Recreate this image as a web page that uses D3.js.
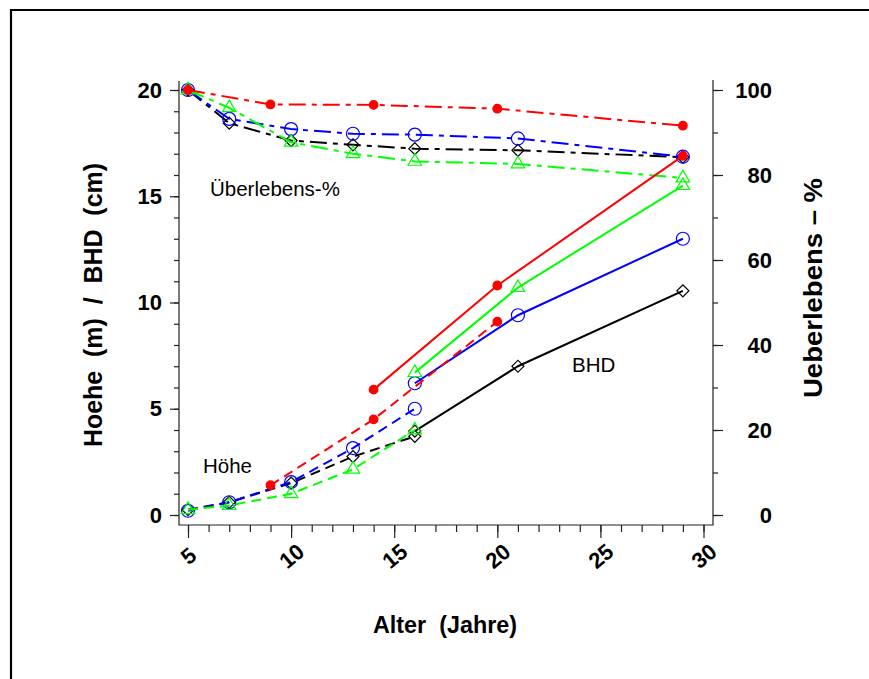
<!DOCTYPE html>
<html>
<head>
<meta charset="utf-8">
<script src="https://cdn.jsdelivr.net/npm/d3@7"></script>
<style>
  body { margin: 0; background: #fff; }
  svg { display: block; font-family: "Liberation Sans", Arial, Helvetica, sans-serif; }
  text { white-space: pre; }
</style>
</head>
<body>
<div id="chart"></div>
<script>
////////////////////////////////////////////////////////////////////////
// Data: age (Jahre), survival (%), height (m), BHD (cm)

// red, filled dots
let redSurvAge = [5, 9, 14, 20, 29];
let redSurv = [100, 96.6, 96.5, 95.6, 91.6];
let redHoeheAge = [9, 14, 20];
let redHoehe = [1.4, 4.5, 9.1];
let redBhdAge = [14, 20, 29];
let redBhd = [5.9, 10.8, 16.9];

// green, triangles
let greenSurvAge = [5, 7, 10, 13, 16, 21, 29];
let greenSurv = [100, 95.8, 87.7, 85.0, 83.2, 82.6, 79.3];
let greenHoeheAge = [5, 7, 10, 13, 16];
let greenHoehe = [0.25, 0.45, 1.0, 2.15, 4.0];
let greenBhdAge = [16, 21, 29];
let greenBhd = [6.7, 10.7, 15.5];

// blue, open circles
let blueSurvAge = [5, 7, 10, 13, 16, 21, 29];
let blueSurv = [100, 93.2, 90.8, 89.7, 89.5, 88.6, 84.3];
let blueHoeheAge = [5, 7, 10, 13, 16];
let blueHoehe = [0.2, 0.6, 1.55, 3.15, 5.0];
let blueBhdAge = [16, 21, 29];
let blueBhd = [6.2, 9.4, 13.0];

// black, diamonds
let blackSurvAge = [5, 7, 10, 13, 16, 21, 29];
let blackSurv = [100, 92.2, 88.1, 87.1, 86.2, 85.8, 84.2];
let blackHoeheAge = [5, 7, 10, 13, 16];
let blackHoehe = [0.25, 0.6, 1.5, 2.75, 3.7];
let blackBhdAge = [16, 21, 29];
let blackBhd = [3.95, 7.0, 10.55];

let xTicks = [5, 10, 15, 20, 25, 30];
let yLeftTicks = [0, 5, 10, 15, 20];
let yRightTicks = [0, 20, 40, 60, 80, 100];

////////////////////////////////////////////////////////////////////////
// Setup

let width = 869;
let height = 679;

let svg = d3.select("#chart")
  .append("svg")
  .attr("width", width).attr("height", height);

// outer frame (only top and left edges are visible in the picture)
svg.append("path")
  .attr("d", "M 11 679 L 11 10 L 869 10")
  .attr("fill", "none")
  .attr("stroke", "black")
  .attr("stroke-width", 2.2);

// plot box
let boxL = 179, boxR = 713, boxT = 81, boxB = 525;

let xScale = d3.scaleLinear().domain([5, 30]).range([188, 703.5]);
let yLeft = d3.scaleLinear().domain([0, 20]).range([515, 90]);
let yRight = d3.scaleLinear().domain([0, 100]).range([515, 90]);

// axis lines
svg.append("path")
  .attr("d", `M ${boxL} ${boxT} L ${boxL} ${boxB} L ${boxR} ${boxB} L ${boxR} ${boxT - 1}`)
  .attr("fill", "none")
  .attr("stroke", "#222")
  .attr("stroke-width", 1.2);

function styleAxis(g) {
  g.select(".domain").remove();
  g.selectAll("line").attr("stroke", "#222").attr("stroke-width", 1.2);
  g.selectAll("text")
    .attr("fill", "black")
    .attr("font-weight", "bold")
    .attr("font-size", 22)
    .attr("font-family", "Liberation Sans, Arial, sans-serif");
}

// x axis: minor then major
svg.append("g")
  .attr("transform", `translate(0, ${boxB})`)
  .call(d3.axisBottom(xScale).tickValues(d3.range(5, 31, 1)).tickSize(7).tickFormat(""))
  .call(styleAxis);
let xAxis = svg.append("g")
  .attr("transform", `translate(0, ${boxB})`)
  .call(d3.axisBottom(xScale).tickValues(xTicks).tickSize(13))
  .call(styleAxis);
xAxis.selectAll("text")
  .attr("y", 0).attr("dy", "0.35em")
  .attr("text-anchor", "middle")
  .attr("transform", "translate(0, 31) rotate(-40)");

// left axis
svg.append("g")
  .attr("transform", `translate(${boxL}, 0)`)
  .call(d3.axisLeft(yLeft).tickValues(d3.range(0, 21, 1)).tickSize(5).tickFormat(""))
  .call(styleAxis);
svg.append("g")
  .attr("transform", `translate(${boxL}, 0)`)
  .call(d3.axisLeft(yLeft).tickValues(yLeftTicks).tickSize(9).tickPadding(8))
  .call(styleAxis);

// right axis
svg.append("g")
  .attr("transform", `translate(${boxR}, 0)`)
  .call(d3.axisRight(yRight).tickValues(d3.range(0, 101, 10)).tickSize(5).tickFormat(""))
  .call(styleAxis);
let rAxis = svg.append("g")
  .attr("transform", `translate(${boxR}, 0)`)
  .call(d3.axisRight(yRight).tickValues(yRightTicks).tickSize(10))
  .call(styleAxis);
rAxis.selectAll("text").attr("text-anchor", "end").attr("x", 59);

// axis titles
svg.append("text")
  .attr("x", 445).attr("y", 633)
  .attr("text-anchor", "middle")
  .attr("font-weight", "bold").attr("font-size", 23)
  .attr("textLength", 144).attr("lengthAdjust", "spacingAndGlyphs")
  .text("Alter  (Jahre)");
svg.append("text")
  .attr("transform", "translate(102, 305) rotate(-90)")
  .attr("text-anchor", "middle")
  .attr("font-weight", "bold").attr("font-size", 25)
  .attr("textLength", 284).attr("lengthAdjust", "spacingAndGlyphs")
  .text("Hoehe  (m)  /  BHD  (cm)");
svg.append("text")
  .attr("transform", "translate(822, 288) rotate(-90)")
  .attr("text-anchor", "middle")
  .attr("font-weight", "bold").attr("font-size", 25)
  .attr("textLength", 220).attr("lengthAdjust", "spacingAndGlyphs")
  .text("Ueberlebens – %");

// annotations
svg.append("text").attr("x", 210).attr("y", 196)
  .attr("font-size", 20.5).text("Überlebens-%");
svg.append("text").attr("x", 203).attr("y", 473)
  .attr("font-size", 20.5).text("Höhe");
svg.append("text").attr("x", 572).attr("y", 372)
  .attr("font-size", 20.5).text("BHD");

////////////////////////////////////////////////////////////////////////
// Series

let dotDash = "17,6,5,6";
let dashed = "10,6";

function zip(ages, vals) {
  return ages.map((a, i) => [a, vals[i]]);
}

function drawLine(pts, yScale, color, dash) {
  let line = d3.line()
    .x(d => xScale(d[0]))
    .y(d => yScale(d[1]));
  svg.append("path")
    .datum(pts)
    .attr("d", line)
    .attr("fill", "none")
    .attr("stroke", color)
    .attr("stroke-width", 2)
    .attr("stroke-dasharray", dash);
}

function drawMarks(pts, yScale, color, shape) {
  let g = svg.append("g");
  let sel = g.selectAll("path")
    .data(pts)
    .enter()
    .append("path")
    .attr("stroke-width", 1.2);
  if (shape === "dot") {
    sel.attr("d", d3.symbol(d3.symbolCircle, 58)())
      .attr("fill", color).attr("stroke", color);
  } else if (shape === "circle") {
    sel.attr("d", d3.symbol(d3.symbolCircle, 133)())
      .attr("fill", "none").attr("stroke", color);
  } else if (shape === "triangle") {
    sel.attr("d", d3.symbol(d3.symbolTriangle, 78)())
      .attr("fill", "none").attr("stroke", color);
  } else {
    sel.attr("d", d3.symbol(d3.symbolSquare, 72)())
      .attr("fill", "none").attr("stroke", color);
  }
  sel.attr("transform", d => `translate(${xScale(d[0])}, ${yScale(d[1])})` +
    (shape === "diamond" ? " rotate(45)" : ""));
}

let series = [
  { color: "black", shape: "diamond",
    surv: zip(blackSurvAge, blackSurv), hoehe: zip(blackHoeheAge, blackHoehe), bhd: zip(blackBhdAge, blackBhd) },
  { color: "#0000ff", shape: "circle",
    surv: zip(blueSurvAge, blueSurv), hoehe: zip(blueHoeheAge, blueHoehe), bhd: zip(blueBhdAge, blueBhd) },
  { color: "#00ff00", shape: "triangle",
    surv: zip(greenSurvAge, greenSurv), hoehe: zip(greenHoeheAge, greenHoehe), bhd: zip(greenBhdAge, greenBhd) },
  { color: "#ff0000", shape: "dot",
    surv: zip(redSurvAge, redSurv), hoehe: zip(redHoeheAge, redHoehe), bhd: zip(redBhdAge, redBhd) }
];

series.forEach(s => {
  drawLine(s.surv, yRight, s.color, dotDash);
  drawMarks(s.surv, yRight, s.color, s.shape);
  drawLine(s.hoehe, yLeft, s.color, dashed);
  drawMarks(s.hoehe, yLeft, s.color, s.shape);
  drawLine(s.bhd, yLeft, s.color, null);
  drawMarks(s.bhd, yLeft, s.color, s.shape);
});
</script>
</body>
</html>
